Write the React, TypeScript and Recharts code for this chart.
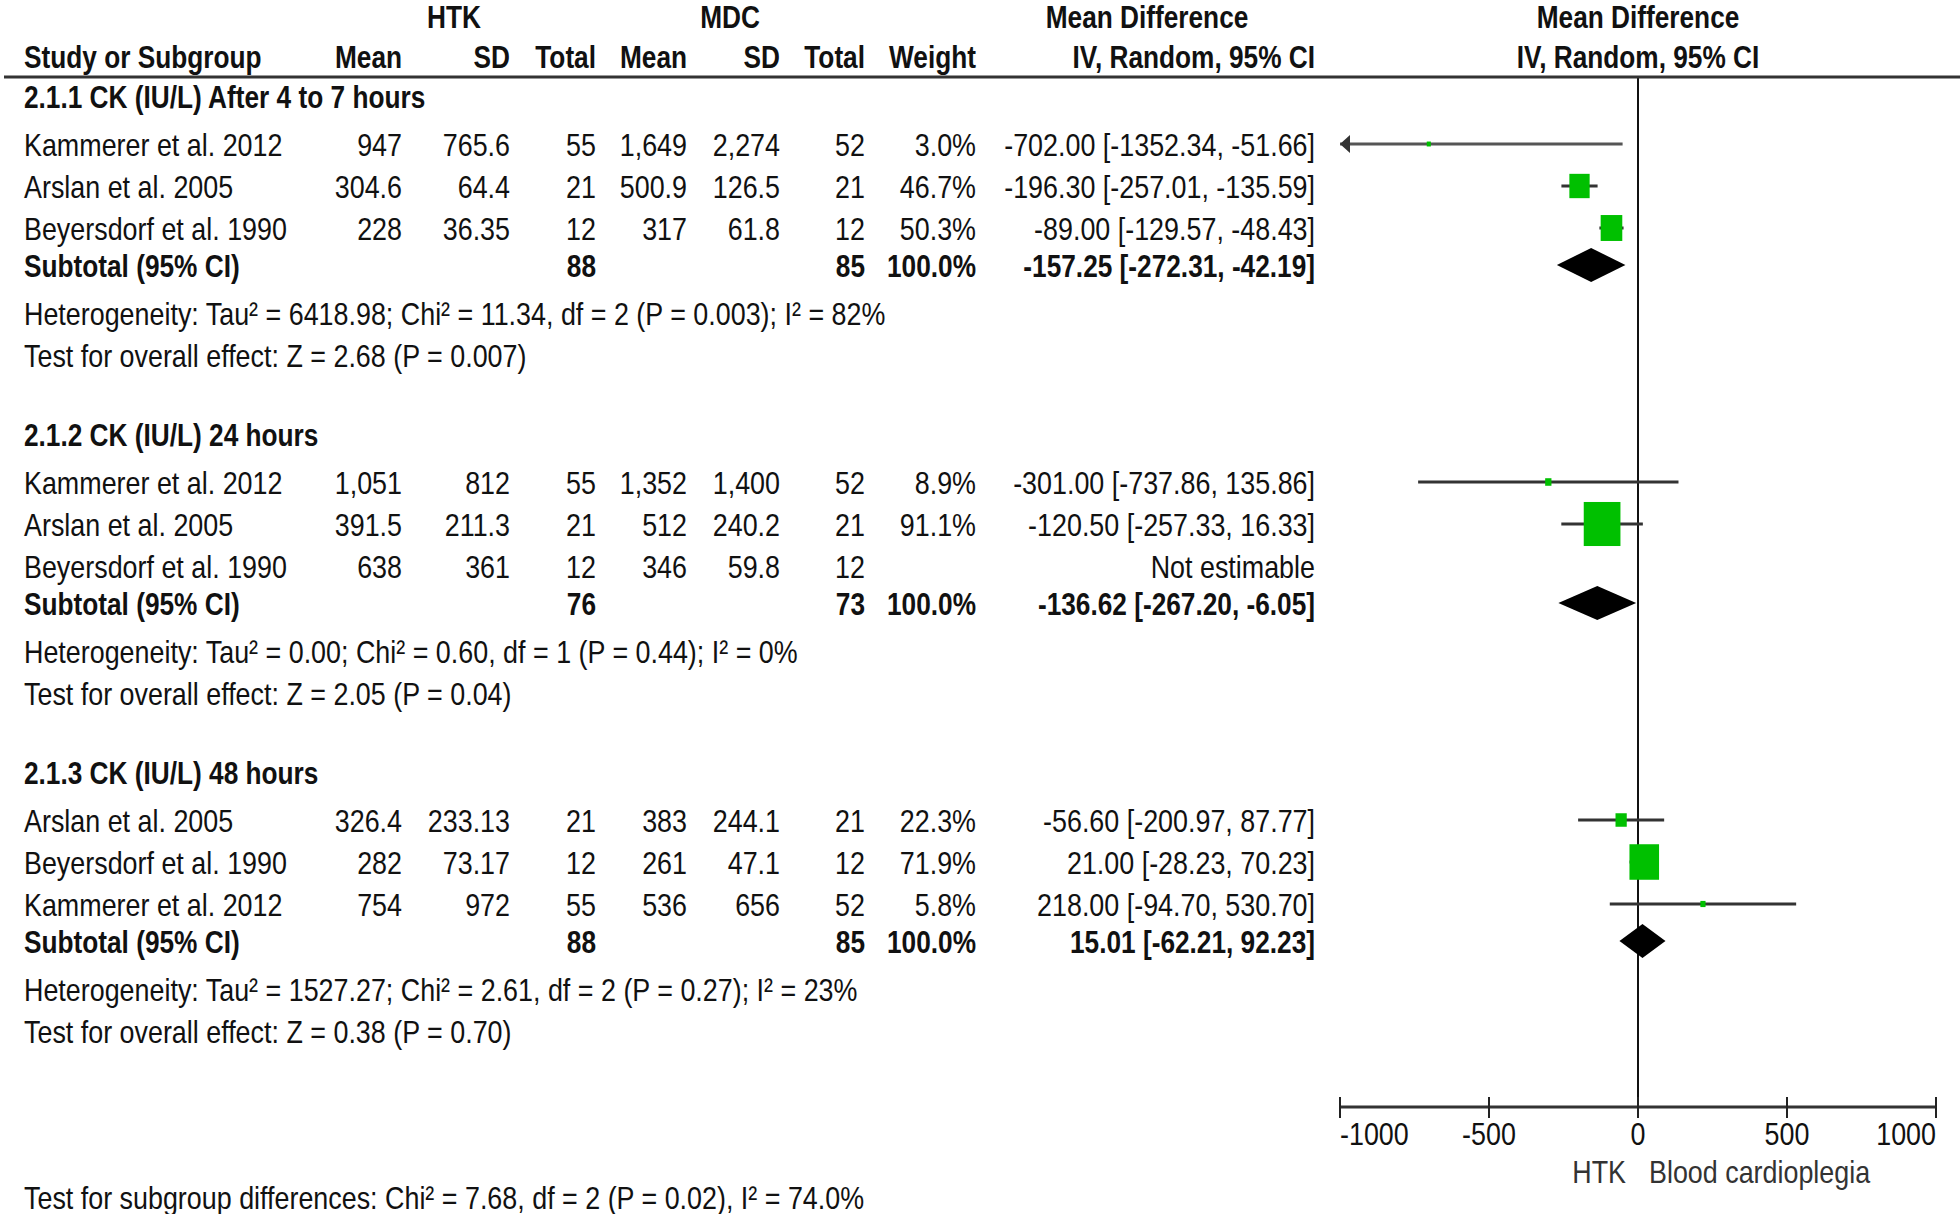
import { ScatterChart, Scatter, XAxis, YAxis, ReferenceLine } from 'recharts';

const FONT = "'Liberation Sans', Arial, sans-serif";
// the reference uses a narrow face; squeeze Liberation Sans to match
const SX = 0.84;
const SX_BOLD = 0.82;

const groupTitles = [
  '2.1.1 CK (IU/L) After 4 to 7 hours',
  '2.1.2 CK (IU/L) 24 hours',
  '2.1.3 CK (IU/L) 48 hours',
];

// one entry per study row, in drawing order
const studyGroup = [0, 0, 0, 1, 1, 1, 2, 2, 2];
const studyNames = [
  'Kammerer et al. 2012', 'Arslan et al. 2005', 'Beyersdorf et al. 1990',
  'Kammerer et al. 2012', 'Arslan et al. 2005', 'Beyersdorf et al. 1990',
  'Arslan et al. 2005', 'Beyersdorf et al. 1990', 'Kammerer et al. 2012',
];
const htkMean = ['947', '304.6', '228', '1,051', '391.5', '638', '326.4', '282', '754'];
const htkSd = ['765.6', '64.4', '36.35', '812', '211.3', '361', '233.13', '73.17', '972'];
const htkTotal = [55, 21, 12, 55, 21, 12, 21, 12, 55];
const mdcMean = ['1,649', '500.9', '317', '1,352', '512', '346', '383', '261', '536'];
const mdcSd = ['2,274', '126.5', '61.8', '1,400', '240.2', '59.8', '244.1', '47.1', '656'];
const mdcTotal = [52, 21, 12, 52, 21, 12, 21, 12, 52];
const weights = [3.0, 46.7, 50.3, 8.9, 91.1, null, 22.3, 71.9, 5.8];
const meanDiff = [-702, -196.3, -89, -301, -120.5, null, -56.6, 21, 218];
const ciLow = [-1352.34, -257.01, -129.57, -737.86, -257.33, null, -200.97, -28.23, -94.7];
const ciHigh = [-51.66, -135.59, -48.43, 135.86, 16.33, null, 87.77, 70.23, 530.7];

// subtotals per group
const subHtkTotal = [88, 76, 88];
const subMdcTotal = [85, 73, 85];
const subMean = [-157.25, -136.62, 15.01];
const subLow = [-272.31, -267.2, -62.21];
const subHigh = [-42.19, -6.05, 92.23];

const heterogeneity = [
  'Heterogeneity: Tau² = 6418.98; Chi² = 11.34, df = 2 (P = 0.003); I² = 82%',
  'Heterogeneity: Tau² = 0.00; Chi² = 0.60, df = 1 (P = 0.44); I² = 0%',
  'Heterogeneity: Tau² = 1527.27; Chi² = 2.61, df = 2 (P = 0.27); I² = 23%',
];
const overallEffect = [
  'Test for overall effect: Z = 2.68 (P = 0.007)',
  'Test for overall effect: Z = 2.05 (P = 0.04)',
  'Test for overall effect: Z = 0.38 (P = 0.70)',
];
const subgroupTest = 'Test for subgroup differences: Chi² = 7.68, df = 2 (P = 0.02), I² = 74.0%';

const xTicks = [-1000, -500, 0, 500, 1000];
const xDomain = [-1000, 1000];
const favoursLeft = 'HTK';
const favoursRight = 'Blood cardioplegia';

type Row = { kind: string; idx: number; y: number };

function buildRows(): Row[] {
  const out: Row[] = [];
  let y = 96;
  groupTitles.forEach((_, g) => {
    out.push({ kind: 'group', idx: g, y });
    const members = studyGroup.map((v, i) => (v === g ? i : -1)).filter((i) => i >= 0);
    members.forEach((i, k) => {
      y += k === 0 ? 48 : 42;
      out.push({ kind: 'study', idx: i, y });
    });
    y += 37;
    out.push({ kind: 'subtotal', idx: g, y });
    y += 48;
    out.push({ kind: 'het', idx: g, y });
    y += 42;
    out.push({ kind: 'test', idx: g, y });
    y += 79;
  });
  return out;
}

const fmt = (v: number) => v.toFixed(2);
const ciText = (m: number, lo: number, hi: number) => `${fmt(m)} [${fmt(lo)}, ${fmt(hi)}]`;

function T({ x, y, anchor = 'start', bold = false, fill = '#111', children }: any) {
  return (
    <g transform={`translate(${x},${y + 11.5}) scale(${bold ? SX_BOLD : SX},1)`}>
      <text x={0} y={0} textAnchor={anchor} fontFamily={FONT} fontSize={32}
        fontWeight={bold ? 700 : 400} fill={fill}>
        {children}
      </text>
    </g>
  );
}

function AxisTick(props: any) {
  const { x, y, payload } = props;
  const v = payload.value;
  const anchor = v === xTicks[0] ? 'start' : v === xTicks[xTicks.length - 1] ? 'end' : 'middle';
  return (
    <g>
      <line x1={x} x2={x} y1={y - 10} y2={y + 11} stroke="#222" strokeWidth={2} />
      <g transform={`translate(${x},${y + 38}) scale(${SX},1)`}>
        <text x={0} y={0} textAnchor={anchor} fontFamily={FONT} fontSize={32} fill="#111">{v}</text>
      </g>
    </g>
  );
}

function CiLine(props: any) {
  const { x1, y1, x2, clipped } = props;
  return (
    <g>
      <line x1={x1} x2={x2} y1={y1} y2={y1} stroke={clipped ? '#555' : '#333'} strokeWidth={3} />
      {clipped && <polygon points={`${x1},${y1} ${x1 + 10},${y1 - 9} ${x1 + 10},${y1 + 9}`} fill="#333" />}
    </g>
  );
}

function Diamond(props: any) {
  const { x1, y1, x2, est, lo, hi } = props;
  const xm = x1 + ((x2 - x1) * (est - lo)) / (hi - lo);
  return <polygon points={`${x1},${y1} ${xm},${y1 - 17} ${x2},${y1} ${xm},${y1 + 17}`} fill="#000" />;
}

function Box(props: any) {
  const { cx, cy, payload } = props;
  const w = 3 + 0.37 * payload.w;
  const h = w * 1.2;
  return <rect x={cx - w / 2} y={cy - h / 2} width={w} height={h} fill="#00C000" />;
}

// column anchors
const COL = { name: 24, htkMean: 402, htkSd: 510, htkTotal: 596, mdcMean: 687, mdcSd: 780, mdcTotal: 865, weight: 976, ci: 1315 };

export default function App() {
  const rows = buildRows();
  const studyRows = rows.filter((r) => r.kind === 'study');
  const subRows = rows.filter((r) => r.kind === 'subtotal');
  const points = studyRows
    .filter((r) => meanDiff[r.idx] !== null)
    .map((r) => ({ x: meanDiff[r.idx] as number, y: r.y, w: weights[r.idx] as number }));

  return (
    <div style={{ position: 'relative', width: 1960, height: 1214, background: '#fff' }}>
      <style>{'body{margin:0}'}</style>
      <ScatterChart width={1960} height={1214} margin={{ top: 77, right: 24, bottom: 47, left: 1340 }}>
        <XAxis type="number" dataKey="x" domain={xDomain} ticks={xTicks} allowDataOverflow
          height={60} tickSize={0} tickMargin={0} tickLine={false}
          axisLine={{ stroke: '#333', strokeWidth: 3 }} tick={<AxisTick />} interval={0} />
        <YAxis type="number" dataKey="y" domain={[77, 1107]} reversed hide allowDataOverflow />
        <ReferenceLine x={0} stroke="#111" strokeWidth={2} />
        {studyRows.filter((r) => meanDiff[r.idx] !== null).map((r) => {
          const lo = Math.max(ciLow[r.idx] as number, xDomain[0]);
          const hi = Math.min(ciHigh[r.idx] as number, xDomain[1]);
          const clipped = (ciLow[r.idx] as number) < xDomain[0];
          return (
            <ReferenceLine key={`ci${r.idx}`} segment={[{ x: lo, y: r.y }, { x: hi, y: r.y }]}
              shape={(p: any) => <CiLine {...p} clipped={clipped} />} />
          );
        })}
        {subRows.map((r) => (
          <ReferenceLine key={`sub${r.idx}`} segment={[{ x: subLow[r.idx], y: r.y }, { x: subHigh[r.idx], y: r.y }]}
            shape={(p: any) => <Diamond {...p} est={subMean[r.idx]} lo={subLow[r.idx]} hi={subHigh[r.idx]} />} />
        ))}
        <Scatter data={points} shape={<Box />} isAnimationActive={false} />
      </ScatterChart>

      <svg width={1960} height={1214} style={{ position: 'absolute', left: 0, top: 0, pointerEvents: 'none' }}>
        <T x={454} y={16} anchor="middle" bold>HTK</T>
        <T x={730} y={16} anchor="middle" bold>MDC</T>
        <T x={1147} y={16} anchor="middle" bold>Mean Difference</T>
        <T x={1638} y={16} anchor="middle" bold>Mean Difference</T>
        <T x={COL.name} y={56} bold>Study or Subgroup</T>
        <T x={COL.htkMean} y={56} anchor="end" bold>Mean</T>
        <T x={COL.htkSd} y={56} anchor="end" bold>SD</T>
        <T x={COL.htkTotal} y={56} anchor="end" bold>Total</T>
        <T x={COL.mdcMean} y={56} anchor="end" bold>Mean</T>
        <T x={COL.mdcSd} y={56} anchor="end" bold>SD</T>
        <T x={COL.mdcTotal} y={56} anchor="end" bold>Total</T>
        <T x={COL.weight} y={56} anchor="end" bold>Weight</T>
        <T x={COL.ci} y={56} anchor="end" bold>IV, Random, 95% CI</T>
        <T x={1638} y={56} anchor="middle" bold>IV, Random, 95% CI</T>
        <line x1={4} x2={1960} y1={77} y2={77} stroke="#333" strokeWidth={3} />

        {rows.map((r, k) => {
          if (r.kind === 'group') return <T key={k} x={COL.name} y={r.y} bold>{groupTitles[r.idx]}</T>;
          if (r.kind === 'het') return <T key={k} x={COL.name} y={r.y}>{heterogeneity[r.idx]}</T>;
          if (r.kind === 'test') return <T key={k} x={COL.name} y={r.y}>{overallEffect[r.idx]}</T>;
          if (r.kind === 'subtotal') {
            const g = r.idx;
            return (
              <g key={k}>
                <T x={COL.name} y={r.y} bold>Subtotal (95% CI)</T>
                <T x={COL.htkTotal} y={r.y} anchor="end" bold>{subHtkTotal[g]}</T>
                <T x={COL.mdcTotal} y={r.y} anchor="end" bold>{subMdcTotal[g]}</T>
                <T x={COL.weight} y={r.y} anchor="end" bold>100.0%</T>
                <T x={COL.ci} y={r.y} anchor="end" bold>{ciText(subMean[g], subLow[g], subHigh[g])}</T>
              </g>
            );
          }
          const i = r.idx;
          const m = meanDiff[i];
          return (
            <g key={k}>
              <T x={COL.name} y={r.y}>{studyNames[i]}</T>
              <T x={COL.htkMean} y={r.y} anchor="end">{htkMean[i]}</T>
              <T x={COL.htkSd} y={r.y} anchor="end">{htkSd[i]}</T>
              <T x={COL.htkTotal} y={r.y} anchor="end">{htkTotal[i]}</T>
              <T x={COL.mdcMean} y={r.y} anchor="end">{mdcMean[i]}</T>
              <T x={COL.mdcSd} y={r.y} anchor="end">{mdcSd[i]}</T>
              <T x={COL.mdcTotal} y={r.y} anchor="end">{mdcTotal[i]}</T>
              {weights[i] !== null && <T x={COL.weight} y={r.y} anchor="end">{(weights[i] as number).toFixed(1)}%</T>}
              <T x={COL.ci} y={r.y} anchor="end">
                {m === null ? 'Not estimable' : ciText(m, ciLow[i] as number, ciHigh[i] as number)}
              </T>
            </g>
          );
        })}

        <T x={1626} y={1171} anchor="end" fill="#333">{favoursLeft}</T>
        <T x={1649} y={1171} fill="#333">{favoursRight}</T>
        <T x={COL.name} y={1197}>{subgroupTest}</T>
      </svg>
    </div>
  );
}
